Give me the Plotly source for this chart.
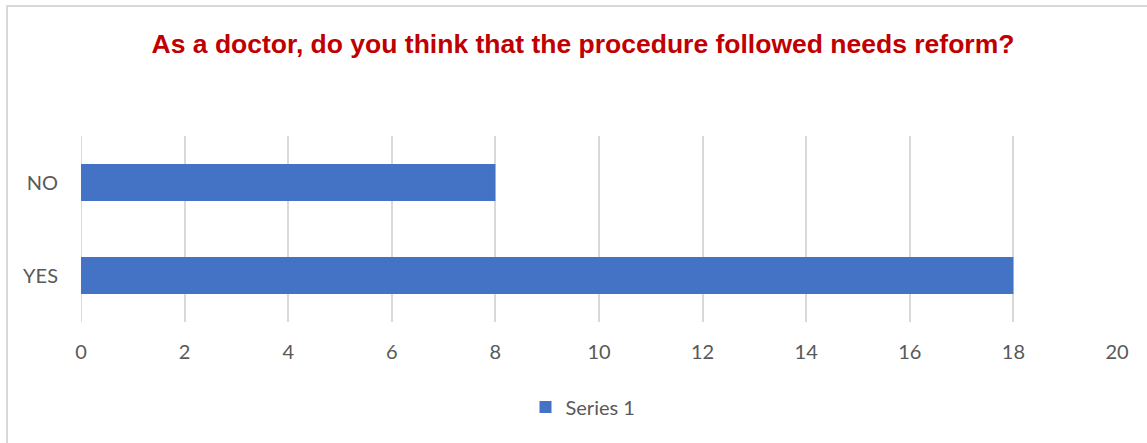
import plotly.graph_objects as go

# Survey responses
categories = ["YES", "NO"]
counts = [18, 8]
series_name = "Series 1"
x_ticks = [0, 2, 4, 6, 8, 10, 12, 14, 16, 18, 20]

W, H = 1147, 443
ml, mr, mt, mb = 81, 30, 136, 121
pw = W - ml - mr
ph = H - mt - mb

def px_x(x):
    return (x - ml) / pw

def px_y(y):
    return (H - mb - y) / ph

label_font = dict(family="Lato, Open Sans", size=20, color="#595959")

fig = go.Figure(
    go.Bar(
        x=counts,
        y=categories,
        orientation="h",
        name=series_name,
        marker=dict(color="#4472C4", line=dict(width=0)),
        width=0.4,
        showlegend=True,
    )
)

fig.update_layout(
    width=W,
    height=H,
    margin=dict(l=ml, r=mr, t=mt, b=mb),
    paper_bgcolor="white",
    plot_bgcolor="white",
    title=dict(
        text="<b>As a doctor, do you think that the procedure followed needs reform?</b>",
        font=dict(family="Liberation Sans, Arial", size=26.5, color="#C00000"),
        x=583 / W,
        xanchor="center",
        y=1 - 44 / H,
        yanchor="middle",
        xref="container",
        yref="container",
    ),
    xaxis=dict(
        range=[0, 20],
        tickvals=x_ticks,
        showgrid=True,
        gridcolor="#d9d9d9",
        gridwidth=2,
        zeroline=False,
        showline=False,
        ticks="",
        ticklabelstandoff=16,
        tickfont=label_font,
        fixedrange=True,
    ),
    yaxis=dict(
        categoryorder="array",
        categoryarray=categories,
        showgrid=False,
        zeroline=False,
        showline=False,
        ticks="",
        ticklabelstandoff=22,
        tickfont=label_font,
        fixedrange=True,
    ),
    legend=dict(
        orientation="h",
        x=px_x(583),
        xanchor="center",
        y=px_y(407),
        yanchor="middle",
        font=label_font,
        itemwidth=30,
    ),
    bargap=0.6,
)

# chart outline
fig.add_shape(
    type="rect", xref="paper", yref="paper",
    x0=px_x(7), x1=px_x(1152), y0=px_y(448), y1=px_y(6),
    line=dict(color="#d9d9d9", width=2), fillcolor="rgba(0,0,0,0)", layer="below",
)
# gridline at zero
fig.add_shape(
    type="line", xref="x", yref="paper",
    x0=0, x1=0, y0=0, y1=1,
    line=dict(color="#d9d9d9", width=2), layer="below",
)

fig.write_html("out.html")
